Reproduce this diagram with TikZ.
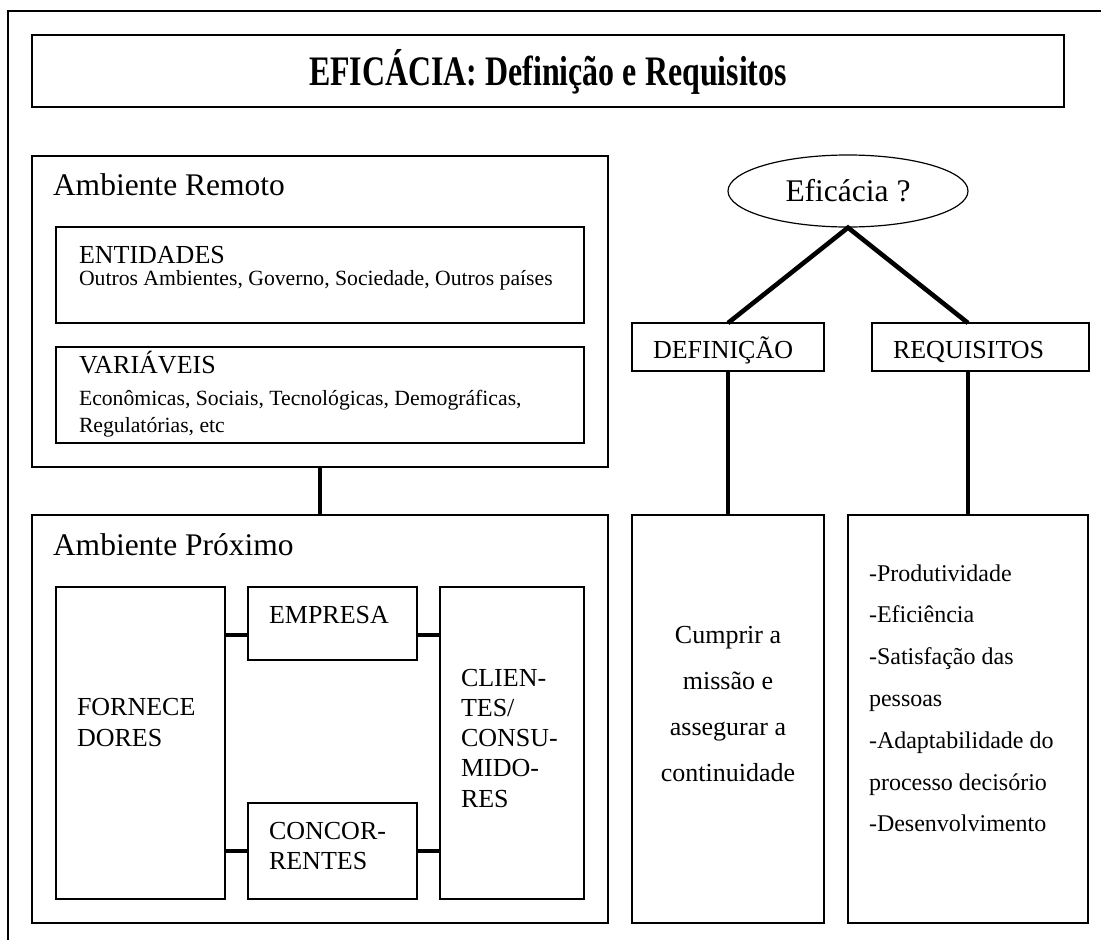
\documentclass[tikz,border=0pt]{standalone}
\usepackage{graphicx}
\usepackage{fontspec}
\setmainfont{Liberation Serif}
\usetikzlibrary{shapes.geometric}
\begin{document}
\begin{tikzpicture}[x=1pt,y=-1pt,
  box/.style={draw, rectangle, line width=1.6pt, inner sep=0pt, outer sep=0pt, anchor=north west},
  link/.style={line width=4.6pt},
  txt/.style={inner sep=0pt, outer sep=0pt, anchor=base west},
  ctxt/.style={inner sep=0pt, outer sep=0pt, anchor=base},
  fhead/.style={font=\fontsize{31.5}{36}\selectfont},
  fbody/.style={font=\fontsize{26}{30}\selectfont},
  flist/.style={font=\fontsize{24}{28}\selectfont},
  fsmall/.style={font=\fontsize{21.7}{25}\selectfont},
  ftitle/.style={font=\fontsize{42}{48}\selectfont\bfseries}]
\useasboundingbox (0,0) rectangle (1101,940);

% page frame (left and top edges)
\draw[line width=1.6pt] (8,940) -- (8,11) -- (1101,11);

% title
\node[box, minimum width=1032pt, minimum height=72pt] (title) at (32,35) {};
\node[ctxt, ftitle] (titletext) at (548,85) {\scalebox{0.76}[1]{EFICÁCIA: Definição e Requisitos}};

% remote environment
\node[box, minimum width=576pt, minimum height=311pt] (remoto) at (32,156) {};
\node[txt, fhead] (remotolabel) at (53,195) {Ambiente Remoto};
\node[box, minimum width=528pt, minimum height=96pt] (entidades) at (56,227) {};
\node[txt, fbody] (entlabel) at (79,263) {ENTIDADES};
\node[txt, fsmall] (entlist) at (79,285) {Outros Ambientes, Governo, Sociedade, Outros países};
\node[box, minimum width=528pt, minimum height=96pt] (variaveis) at (56,347) {};
\node[txt, fbody] (varlabel) at (79,373) {VARIÁVEIS};
\node[txt, fsmall] (varlist1) at (79,405) {Econômicas, Sociais, Tecnológicas, Demográficas,};
\begin{scope}
  \clip (56,347) rectangle (584,442);
  \node[txt, fsmall] (varlist2) at (79,432) {Regulatórias, etc};
\end{scope}

% near environment
\node[box, minimum width=576pt, minimum height=408pt] (proximo) at (32,515) {};
\node[txt, fhead] (proxlabel) at (53,555) {Ambiente Próximo};
\node[box, minimum width=169pt, minimum height=312pt] (forn) at (56,587) {};
\node[txt, fbody] (forn1) at (77,715) {FORNECE};
\node[txt, fbody] (forn2) at (77,746) {DORES};
\node[box, minimum width=169pt, minimum height=73pt] (empresa) at (248,587) {};
\node[txt, fbody] (emplabel) at (269,623) {EMPRESA};
\node[box, minimum width=169pt, minimum height=96pt] (concor) at (248,803) {};
\node[txt, fbody] (conc1) at (269,839) {CONCOR-};
\node[txt, fbody] (conc2) at (269,869) {RENTES};
\node[box, minimum width=144pt, minimum height=312pt] (clientes) at (440,587) {};
\foreach \t [count=\i from 0] in {CLIEN-, TES/, CONSU-, MIDO-, RES}
  \node[txt, fbody] (cli\i) at (461,686+30.3*\i) {\t};

% links between the environment boxes
\draw[link] (remoto.south -| 320,0) -- (proximo.north -| 320,0);
\draw[link] (forn.east |- 0,635) -- (empresa.west |- 0,635);
\draw[link] (empresa.east |- 0,635) -- (clientes.west |- 0,635);
\draw[link] (forn.east |- 0,851) -- (concor.west |- 0,851);
\draw[link] (concor.east |- 0,851) -- (clientes.west |- 0,851);

% effectiveness tree
\node[draw, ellipse, line width=1.2pt, minimum width=240pt, minimum height=72pt, inner sep=0pt, fhead] (eficacia) at (848,191) {Eficácia ?};
\node[box, minimum width=192pt, minimum height=48pt] (definicao) at (632,323) {};
\node[txt, fbody] (deflabel) at (653,358) {DEFINIÇÃO};
\node[box, minimum width=217pt, minimum height=48pt] (requisitos) at (872,323) {};
\node[txt, fbody] (reqlabel) at (893,358) {REQUISITOS};
\node[box, minimum width=192pt, minimum height=408pt] (cumprir) at (632,515) {};
\foreach \t [count=\i from 0] in {Cumprir a, missão e, assegurar a, continuidade}
  \node[ctxt, fbody] (cump\i) at (728,643+46*\i) {\t};
\node[box, minimum width=240pt, minimum height=408pt] (reqlist) at (848,515) {};
\foreach \t [count=\i from 0] in {-Produtividade, -Eficiência, -Satisfação das, pessoas, -Adaptabilidade do, processo decisório, -Desenvolvimento}
  \node[txt, flist] (req\i) at (869,581+41.8*\i) {\t};

\draw[link] (definicao.north) -- (eficacia.south) -- (requisitos.north -| reqlist.north);
\draw[link] (definicao.south) -- (cumprir.north);
\draw[link] (requisitos.south -| reqlist.north) -- (reqlist.north);
\end{tikzpicture}
\end{document}
